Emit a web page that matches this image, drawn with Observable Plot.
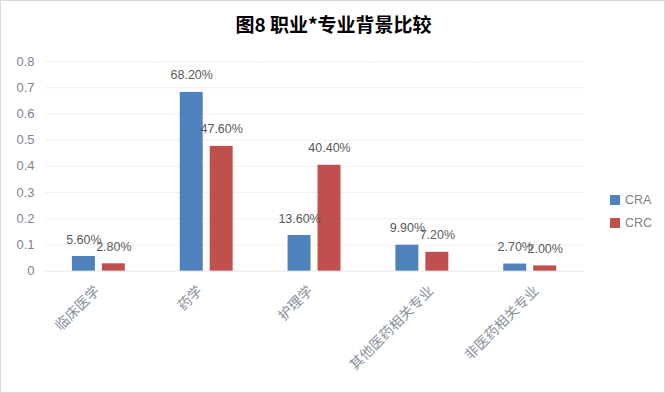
<!DOCTYPE html>
<html><head><meta charset="utf-8">
<script src="https://cdn.jsdelivr.net/npm/d3@7"></script>
<script src="https://cdn.jsdelivr.net/npm/@observablehq/plot@0.6"></script>
<style>
body{margin:0;background:#fff;}
#wrap{position:relative;width:665px;height:393px;box-sizing:border-box;border:1px solid #d9d9d9;background:#fff;font-family:"Liberation Sans","Noto Sans CJK SC",sans-serif;overflow:hidden;}
#title{position:absolute;left:0;top:9px;width:665px;text-align:center;font-family:"Noto Sans CJK SC",sans-serif;font-weight:bold;font-size:19px;color:#000;line-height:28px;}
#chart{position:absolute;left:-1px;top:49px;}
.leg{position:absolute;left:609px;font-size:12.5px;color:#7f7f7f;line-height:10px;}
.leg span{display:inline-block;width:10px;height:10px;vertical-align:top;margin-right:5px;}
</style></head>
<body>
<div id="wrap">
<div id="title">图8 职业*专业背景比较</div>
<div id="chart"></div>
<div class="leg" style="top:194px"><span style="background:#4f81bd"></span>CRA</div>
<div class="leg" style="top:217px"><span style="background:#c0504d"></span>CRC</div>
</div>
<script>
const categories = ["临床医学","药学","护理学","其他医药相关专业","非医药相关专业"];
const series = ["CRA","CRC"];
const craValues = [0.056,0.682,0.136,0.099,0.027];
const crcValues = [0.028,0.476,0.404,0.072,0.020];
const yTicks = [0,0.1,0.2,0.3,0.4,0.5,0.6,0.7,0.8];
const colors = ["#4f81bd","#c0504d"];

const data = [];
categories.forEach((c,i)=>{
  data.push({cat:c, s:"CRA", v:craValues[i]});
  data.push({cat:c, s:"CRC", v:crcValues[i]});
});
const pct = v => (v*100).toFixed(2)+"%";

const catLabels = categories.map(c => Plot.text([c], {
  fx:d=>d, text:d=>d, frameAnchor:"bottom",
  dx: 2.6*(c.length-2) - 4, dy: 20.5,
  rotate:-45, textAnchor:"end", fontSize:14, fill:"#8a90a0",
  fontFamily:'"Noto Sans CJK SC",sans-serif', letterSpacing:"0.8px"
}));

const plot = Plot.plot({
  width:665, height:344,
  marginTop:11, marginBottom:123, marginLeft:43, marginRight:78,
  style:{fontFamily:'"Liberation Sans","Noto Sans CJK SC",sans-serif', background:"transparent"},
  fx:{domain:categories, padding:0, axis:null},
  x:{domain:series, axis:null, paddingInner:7/31, paddingOuter:0.871},
  y:{domain:[0,0.8], axis:null},
  color:{domain:series, range:colors},
  marks:[
    Plot.ruleY(yTicks.slice(1), {stroke:"#f0f0f0"}),
    Plot.ruleY([0], {stroke:"#e6e6e6"}),
    Plot.axisY({ticks:yTicks, label:null, tickSize:0, tickPadding:11, fontSize:13, fill:"#7f8391", tickFormat:d=>d===0?"0":d.toFixed(1)}),
    Plot.barY(data, {fx:"cat", x:"s", y:"v", fill:"s"}),
    Plot.text(data, {fx:"cat", x:"s", y:"v", text:d=>pct(d.v), dy:-17, fontSize:12.5, fill:"#595959"}),
    ...catLabels
  ]
});
document.getElementById("chart").appendChild(plot);
</script>
</body></html>
